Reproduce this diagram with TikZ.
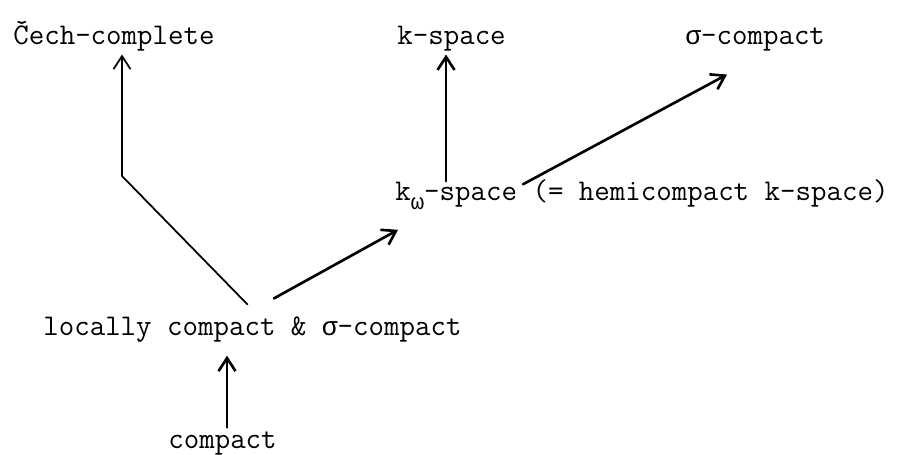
\documentclass[tikz,border=0pt]{standalone}
\usepackage{fontspec}
\newfontfamily\grk[Scale=0.875]{Liberation Mono}
\usetikzlibrary{arrows.meta}
\newcommand{\sgm}{{\grk σ}}
\newcommand{\omg}{\raisebox{-.75ex}{\fontsize{14.5}{14}\grk ω}}
\begin{document}
\begin{tikzpicture}[font=\fontsize{17.1}{20}\ttfamily,line join=round,line cap=round,>={Straight Barb[length=2.6mm,width=3.4mm]}]
	\tikzset{every node/.style={inner sep=2pt,anchor=base west},
		arr/.style={->,line width=1.5pt},
		thinarr/.style={->,line width=1pt}}
	\useasboundingbox (0,0) rectangle (18.14,9.08);
	\node (cech) at (0.19,8.2) {Čech-complete};
	\node (kspace) at (7.87,8.2) {k-space};
	\node (sigma) at (13.63,8.2) {\sgm-compact};
	\node (komega) at (7.83,5.08) {k\omg-space (= hemicompact k-space)};
	\node (lcsc) at (0.79,2.38) {locally compact \& \sgm-compact};
	\node (compact) at (3.29,0.12) {compact};
	\coordinate (cbend) at (2.44,5.56);
	\draw[thinarr] ([xshift=-1mm,yshift=1.6mm]lcsc.north) -- (cbend) -- (cbend |- cech.south);
	\draw[arr] ([xshift=4.3mm,yshift=2.8mm]lcsc.north) -- ([xshift=1.3mm,yshift=-3.2mm]komega.south west);
	\draw[arr] ([xshift=-1.1mm,yshift=-1.2mm]kspace.south |- komega.north) -- ([xshift=-1.1mm]kspace.south);
	\draw[arr] ([xshift=26.3mm,yshift=-1.8mm]komega.north west) -- ([xshift=9.1mm,yshift=-4mm]sigma.south west);
	\draw[arr] ([xshift=.9mm]compact.north) -- ([xshift=.9mm,yshift=-2mm]compact.north |- lcsc.south);
\end{tikzpicture}
\end{document}
